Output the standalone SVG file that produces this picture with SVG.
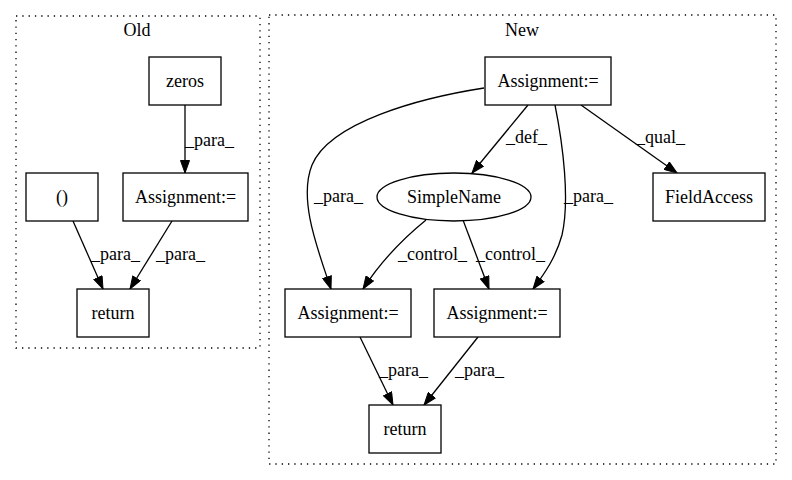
<svg xmlns="http://www.w3.org/2000/svg" width="792" height="480" viewBox="0 0 792 480">
<style>
text{font-family:"Liberation Serif","Times New Roman",serif;font-size:18px;fill:#000}
.n{fill:#fff;stroke:#000;stroke-width:1.3}
.c{fill:none;stroke:#000;stroke-width:1.3;stroke-dasharray:1.3,5}
.e{fill:none;stroke:#000;stroke-width:1.3;marker-end:url(#ah)}
.m{text-anchor:middle}
</style>
<defs>
<marker id="ah" markerUnits="userSpaceOnUse" markerWidth="14" markerHeight="10" refX="13" refY="5" orient="auto">
<path d="M0.5,0.5 L13,5 L0.5,9.5 z" fill="#000" stroke="#000"/>
</marker>
</defs>
<rect width="792" height="480" fill="#fff"/>
<g id="cluster_old">
<rect class="c" x="16" y="16" width="244" height="332"/>
<text class="m" x="137" y="36">Old</text>
</g>
<g id="cluster_new">
<rect class="c" x="269" y="15" width="507" height="449"/>
<text class="m" x="522" y="36">New</text>
</g>
<g id="edges">
<path class="e" d="M185,105 L185,173"/>
<text x="185" y="146">_para_</text>
<path class="e" d="M73,221 L103,289"/>
<text x="91" y="260">_para_</text>
<path class="e" d="M172,221 L130,289"/>
<text x="156" y="260">_para_</text>

<path class="e" d="M484,88 C420,98 330,122 312,165 C298,200 318,250 331,289"/>
<text x="314" y="202">_para_</text>
<path class="e" d="M528,105 L472,173"/>
<text x="506" y="143">_def_</text>
<path class="e" d="M555,105 C563,145 570,200 562,235 C556,257 545,273 533,289"/>
<text x="564" y="202">_para_</text>
<path class="e" d="M581,105 L677,173"/>
<text x="636" y="143">_qual_</text>
<path class="e" d="M426,220 C410,233 385,255 363,289"/>
<text x="398" y="260">_control_</text>
<path class="e" d="M463,220 L489,289"/>
<text x="476" y="260">_control_</text>
<path class="e" d="M360,337 L393,405"/>
<text x="379" y="376">_para_</text>
<path class="e" d="M478,337 L424,405"/>
<text x="455" y="376">_para_</text>
</g>
<g id="old_zeros"><rect class="n" x="149" y="57" width="72" height="48"/><text class="m" x="185" y="87">zeros</text></g>
<g id="old_assign"><rect class="n" x="123" y="173" width="125" height="48"/><text class="m" x="185.5" y="203">Assignment:=</text></g>
<g id="old_paren"><rect class="n" x="26" y="173" width="72" height="48"/><text class="m" x="62" y="203">()</text></g>
<g id="old_return"><rect class="n" x="77" y="289" width="72" height="48"/><text class="m" x="113" y="319">return</text></g>

<g id="new_assign_top"><rect class="n" x="485" y="57" width="126" height="48"/><text class="m" x="548" y="87">Assignment:=</text></g>
<g id="new_simplename"><ellipse class="n" cx="454" cy="197" rx="77" ry="24"/><text class="m" x="454" y="203">SimpleName</text></g>
<g id="new_fieldaccess"><rect class="n" x="653" y="173" width="112" height="48"/><text class="m" x="709" y="203">FieldAccess</text></g>
<g id="new_assign_left"><rect class="n" x="285" y="289" width="126" height="48"/><text class="m" x="348" y="319">Assignment:=</text></g>
<g id="new_assign_right"><rect class="n" x="434" y="289" width="126" height="48"/><text class="m" x="497" y="319">Assignment:=</text></g>
<g id="new_return"><rect class="n" x="369" y="405" width="72" height="48"/><text class="m" x="405" y="435">return</text></g>
</svg>
